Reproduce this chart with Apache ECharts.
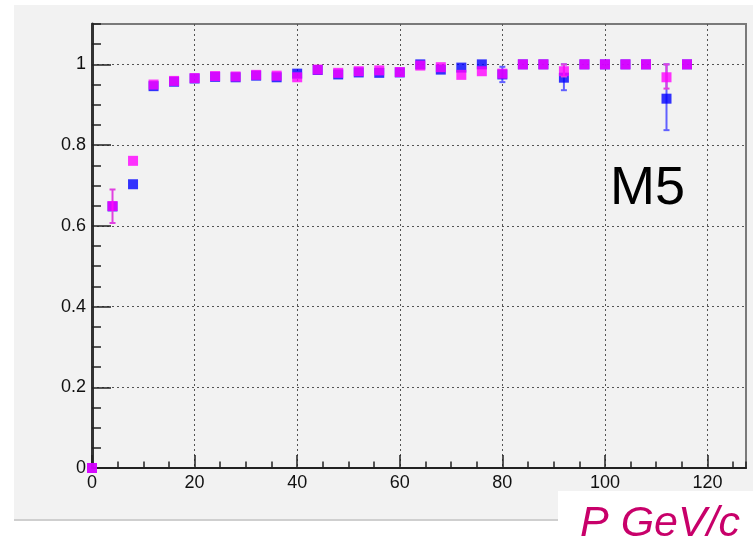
<!DOCTYPE html>
<html>
<head>
<meta charset="utf-8">
<style>
html,body{margin:0;padding:0;background:#ffffff;}
#chart{width:753px;height:552px;}
</style>
<script src="https://cdn.jsdelivr.net/npm/echarts@6/dist/echarts.min.js"></script>
</head>
<body>
<div id="chart"></div>
<script>
// ---- data ----
const momentum = [0,4,8,12,16,20,24,28,32,36,40,44,48,52,56,60,64,68,72,76,80,84,88,92,96,100,104,108,112,116];
const blueEff = [0,0.648,0.703,0.946,0.957,0.965,0.969,0.968,0.972,0.968,0.977,0.986,0.975,0.980,0.979,0.980,1.0,0.987,0.992,1.0,0.975,1.0,1.0,0.967,1.0,1.0,1.0,1.0,0.915,1.0];
const magentaEff = [0,0.649,0.761,0.950,0.959,0.966,0.971,0.970,0.974,0.972,0.968,0.987,0.979,0.983,0.985,0.981,0.997,0.993,0.974,0.983,0.977,1.0,1.0,0.983,1.0,1.0,1.0,1.0,0.968,1.0];
// error bars: [p, low, high]
const blueErr = [[80,0.956,0.994],[92,0.936,1.0],[112,0.837,1.0]];
const magentaErr = [[4,0.607,0.690],[92,0.970,1.0],[112,0.940,1.0]];
const xTicksMajor = 20, xTicksMinor = 5;
const yTicksMajor = 0.2, yTicksMinor = 0.05;
const xMax = 127.5, yMax = 1.1;
const panelLabel = 'M5';
const xTitle = 'P GeV/c';

const FONT = 'Liberation Sans, Arial, sans-serif';
const chart = echarts.init(document.getElementById('chart'), null, {renderer:'canvas'});

function errRender(color){
  return function(params, api){
    const x = api.value(0), lo = api.value(1), hi = api.value(2);
    const a = api.coord([x, lo]), b = api.coord([x, hi]);
    const cap = 3;
    const st = {stroke: color, lineWidth: 2};
    return {type:'group', children:[
      {type:'line', shape:{x1:a[0],y1:a[1],x2:b[0],y2:b[1]}, style:st},
      {type:'line', shape:{x1:a[0]-cap,y1:a[1],x2:a[0]+cap,y2:a[1]}, style:st},
      {type:'line', shape:{x1:b[0]-cap,y1:b[1],x2:b[0]+cap,y2:b[1]}, style:st}
    ]};
  };
}

const option = {
  animation:false,
  backgroundColor:'#ffffff',
  grid:{left:92, right:7, top:24, bottom:84, show:true, borderColor:'#7a7a7a', borderWidth:2, backgroundColor:'transparent'},
  graphic:[
    {type:'rect', z:-10, shape:{x:14,y:5,width:739,height:515}, style:{fill:'#f2f2f2'}},
    {type:'line', z:-9, shape:{x1:14,y1:520,x2:753,y2:520}, style:{stroke:'#cfcfcf', lineWidth:2}},
    {type:'rect', z:-8, shape:{x:558,y:491,width:195,height:61}, style:{fill:'#ffffff'}},
    {type:'text', z:100, left:610, top:162, style:{text:panelLabel, font:'54px ' + FONT, fill:'#000000'}},
    {type:'text', z:100, left:580, top:503, style:{text:xTitle, font:'italic 43px ' + FONT, fill:'#c8006a'}}
  ],
  xAxis:[
    {type:'value', min:0, max:xMax, interval:xTicksMajor, position:'bottom',
     axisLine:{show:true, onZero:false, lineStyle:{color:'#222', width:2}},
     axisTick:{show:true, inside:true, length:13, lineStyle:{color:'#222', width:1.5}},
     axisLabel:{show:true, margin:6, fontSize:18, color:'#111', fontFamily:FONT, showMaxLabel:false},
     splitLine:{show:true, showMinLine:false, showMaxLine:false, lineStyle:{type:[2,3], color:'#555', width:1}}},
    {type:'value', min:0, max:xMax, interval:xTicksMinor, position:'bottom',
     axisLine:{show:false, onZero:false},
     axisTick:{show:true, inside:true, length:6.5, lineStyle:{color:'#222', width:1.5}},
     axisLabel:{show:false}, splitLine:{show:false}}
  ],
  yAxis:[
    {type:'value', min:0, max:yMax, interval:yTicksMajor, position:'left',
     axisLine:{show:true, onZero:false, lineStyle:{color:'#333', width:3}},
     axisTick:{show:true, inside:true, length:19, lineStyle:{color:'#222', width:1.5}},
     axisLabel:{show:true, margin:6, fontSize:18, color:'#111', fontFamily:FONT, showMaxLabel:false},
     splitLine:{show:true, showMinLine:false, showMaxLine:false, lineStyle:{type:[2,3], color:'#555', width:1}}},
    {type:'value', min:0, max:yMax, interval:yTicksMinor, position:'left',
     axisLine:{show:false, onZero:false},
     axisTick:{show:true, inside:true, length:9, lineStyle:{color:'#222', width:1.5}},
     axisLabel:{show:false}, splitLine:{show:false}}
  ],
  series:[
    {type:'custom', renderItem:errRender('#6060ff'), data:blueErr, encode:{x:0,y:[1,2]}, z:3, clip:false},
    {type:'scatter', symbol:'rect', symbolSize:10, itemStyle:{color:'#0000ff'},
     data:momentum.map((p,i)=>[p, blueEff[i]]), z:4, clip:false},
    {type:'custom', renderItem:errRender('#e040e0'), data:magentaErr, encode:{x:0,y:[1,2]}, z:5, clip:false},
    {type:'scatter', symbol:'rect', symbolSize:10, itemStyle:{color:'#ff00ff'},
     data:momentum.map((p,i)=>[p, magentaEff[i]]), z:6, clip:false}
  ]
};
chart.setOption(option);
</script>
</body>
</html>
